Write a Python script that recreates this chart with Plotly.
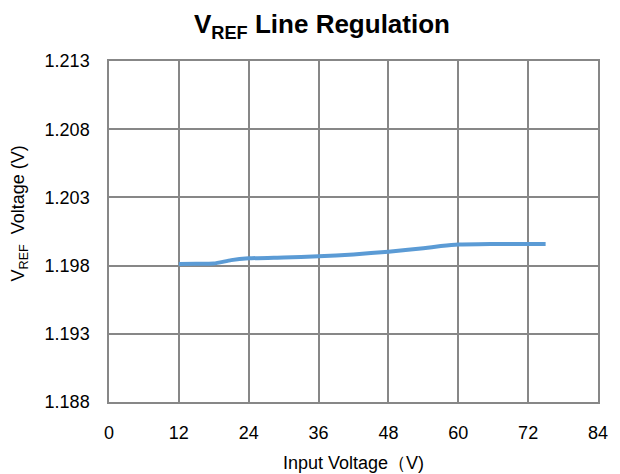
import plotly.graph_objects as go

input_voltage = [12, 15, 18, 21, 24, 30, 36, 42, 48, 54, 57, 60, 66, 72, 75]
vref_voltage = [1.19812, 1.19813, 1.19815, 1.19840, 1.19853, 1.19860, 1.19868,
                1.19882, 1.19902, 1.19928, 1.19943, 1.19954, 1.19958, 1.19959, 1.19959]

x_ticks = [0, 12, 24, 36, 48, 60, 72, 84]
y_ticks = [1.188, 1.193, 1.198, 1.203, 1.208, 1.213]

FONT = "Liberation Sans, Arial, sans-serif"
GRID = "#878787"
L, R, T, B = 109, 606, 61, 402

fig = go.Figure()
fig.add_trace(go.Scatter(
    x=input_voltage, y=vref_voltage, mode="lines",
    line=dict(color="#5B9BD5", width=4, shape="spline", smoothing=0.6),
    showlegend=False, hoverinfo="skip",
))

fig.update_layout(
    width=620, height=474,
    margin=dict(l=L, r=620 - R, t=T, b=474 - B),
    paper_bgcolor="white", plot_bgcolor="white",
    font=dict(family=FONT, size=18, color="#000000"),
    title=dict(text="<b>V<sub>REF</sub> Line Regulation</b>",
               x=322 / 620, xanchor="center", y=1 - 24 / 474, yanchor="middle",
               font=dict(family=FONT, size=26, color="#000000")),
    xaxis=dict(range=[0, 84], tickvals=x_ticks, ticktext=[str(t) for t in x_ticks],
               showgrid=True, gridcolor=GRID, gridwidth=1.5,
               showline=True, linecolor=GRID, linewidth=1.5, mirror=True,
               ticks="", zeroline=False, ticklabelstandoff=14,
               tickfont=dict(family=FONT, size=18)),
    yaxis=dict(range=[1.188, 1.213], tickvals=y_ticks, ticktext=[f"{t:.3f}" for t in y_ticks],
               showgrid=True, gridcolor=GRID, gridwidth=1.5,
               showline=True, linecolor=GRID, linewidth=1.5, mirror=True,
               ticks="", zeroline=False, ticklabelstandoff=14,
               tickfont=dict(family=FONT, size=18)),
    annotations=[
        dict(text="Input Voltage（V)", xref="paper", yref="paper",
             x=0.5, y=-(463 - B) / (B - T),
             xanchor="center", yanchor="middle", showarrow=False,
             font=dict(family=FONT, size=18)),
        dict(text="V<sub>REF</sub>  Voltage (V)", xref="paper", yref="paper",
             x=-(L - 18) / (R - L), y=1 - (213 - T) / (B - T),
             xanchor="center", yanchor="middle", textangle=-90, showarrow=False,
             font=dict(family=FONT, size=18)),
    ],
)

fig.write_html("out.html", config={"displayModeBar": False},
               post_script="document.body.style.margin='0';document.body.style.overflow='hidden';")
